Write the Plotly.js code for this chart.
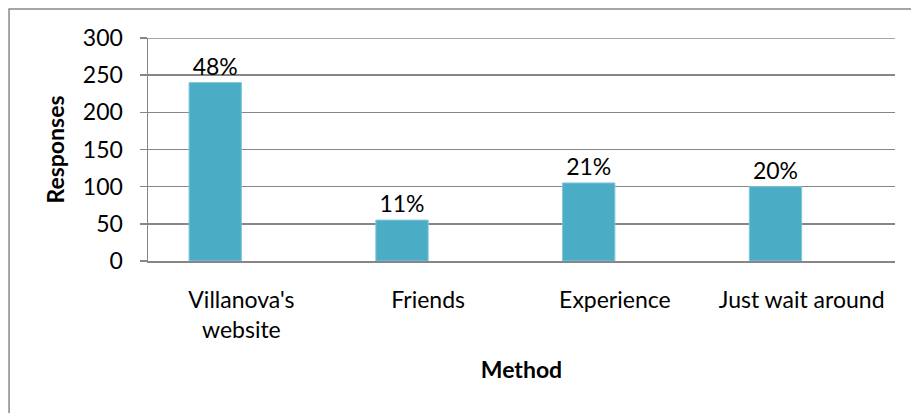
<!DOCTYPE html>
<html>
<head>
<meta charset="utf-8">
<script src="https://cdn.plot.ly/plotly-3.0.1.min.js"></script>
<style>
html,body{margin:0;padding:0;background:#fff;}
#chart{width:911px;height:413px;}
</style>
</head>
<body>
<div id="chart"></div>
<script>
var categories = ["Villanova's<br>website", "Friends", "Experience", "Just wait around"];
var responses = [240, 55, 105, 100];
var percentLabels = ["48%", "11%", "21%", "20%"];
var yTickValues = [0, 50, 100, 150, 200, 250, 300];
var yMax = 300;

var FONT = "Lato, 'Open Sans', sans-serif";
var FS = 23;

var trace = {
  type: 'bar',
  x: categories,
  y: responses,
  text: percentLabels,
  textposition: 'outside',
  textfont: {family: FONT, size: FS, color: '#000'},
  cliponaxis: false,
  width: 0.28,
  offset: -0.28,
  marker: {color: '#4BACC6', line: {color: '#7fc6da', width: 1}},
  hoverinfo: 'x+y'
};

var layout = {
  width: 911,
  height: 413,
  margin: {l: 148, r: 16, t: 38, b: 152},
  paper_bgcolor: '#fff',
  plot_bgcolor: '#fff',
  showlegend: false,
  font: {family: FONT, size: FS, color: '#000'},
  xaxis: {
    type: 'category',
    range: [-0.5, 3.5],
    showline: true,
    linecolor: '#868686',
    linewidth: 1.5,
    showgrid: false,
    ticks: '',
    ticklabelstandoff: 18,
    tickfont: {family: FONT, size: FS, color: '#000'},
    title: {text: 'Method', font: {family: FONT, size: FS, color: '#000', weight: 'bold'}, standoff: 20}
  },
  yaxis: {
    range: [0, yMax],
    tickvals: yTickValues,
    ticktext: yTickValues.map(String),
    showline: true,
    linecolor: '#868686',
    linewidth: 1.5,
    showgrid: true,
    gridcolor: '#868686',
    gridwidth: 1.5,
    zeroline: false,
    ticks: 'outside',
    ticklen: 7,
    tickcolor: '#868686',
    tickwidth: 1.5,
    ticklabelstandoff: 12,
    tickfont: {family: FONT, size: FS, color: '#000'},
    title: {text: 'Responses', font: {family: FONT, size: FS, color: '#000', weight: 'bold'}, standoff: 12}
  },
  shapes: [{
    type: 'rect',
    xref: 'paper', yref: 'paper',
    x0: -0.186, x1: 1.2, y0: -0.8, y1: 1.13,
    line: {color: '#888', width: 1.5},
    fillcolor: 'rgba(0,0,0,0)',
    layer: 'below'
  }, {
    type: 'line',
    xref: 'paper', yref: 'y',
    x0: 0, x1: 1, y0: yMax, y1: yMax,
    line: {color: '#868686', width: 1.5},
    layer: 'below'
  }]
};

Plotly.newPlot('chart', [trace], layout, {displayModeBar: false, staticPlot: true});
</script>
</body>
</html>
